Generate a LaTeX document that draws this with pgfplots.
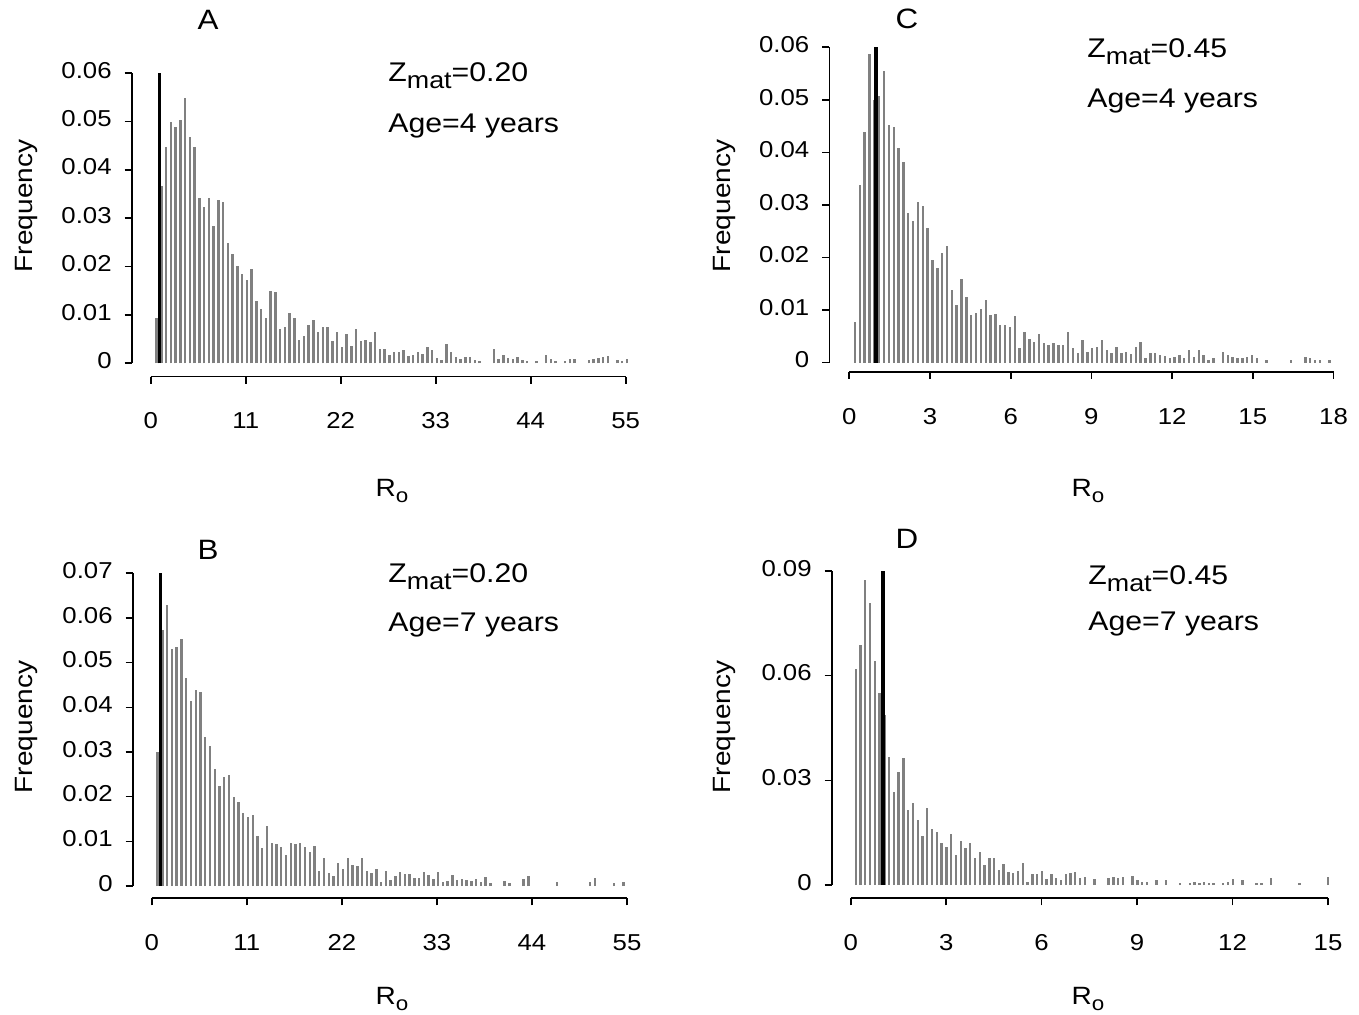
\documentclass[border=0pt]{standalone}
\usepackage{pgfplots}
\pgfplotsset{compat=1.18}
\usepackage{fontspec}
\setmainfont{Liberation Sans}[FakeStretch=1.12]

\pgfplotsset{
  panel/.style={
    scale only axis, axis lines*=left, axis line style={draw=none},
    tick align=outside, major tick length=3.5pt,
    tick style={black, line width=0.8pt},
    scaled y ticks=false, scaled x ticks=false,
    ticklabel style={font=\fontsize{11.5}{13}\selectfont},
    typeset ticklabels with strut,
    xticklabel style={yshift=-10pt},
    yticklabel style={xshift=-3pt},
    /pgf/number format/assume math mode=true,
    clip=false, anchor=south west,
  },
  bars/.style={ycomb, no markers, draw=black!50, line width=1.2pt},
  refline/.style={black, line width=1.5pt},
}

\pgfplotstableread{
x y
0.69 0.0094
1.24 0.0366
1.79 0.0448
2.34 0.0498
2.89 0.0488
3.44 0.0503
3.99 0.0548
4.54 0.0467
5.09 0.0448
5.64 0.0342
6.19 0.0324
6.74 0.0342
7.29 0.0283
7.84 0.0337
8.39 0.0333
8.94 0.0249
9.49 0.0225
10.04 0.0201
10.59 0.0184
11.14 0.0173
11.69 0.0194
12.24 0.0129
12.79 0.0113
13.34 0.0094
13.89 0.0149
14.44 0.0147
14.99 0.0070
15.54 0.0074
16.09 0.0103
16.64 0.0094
17.19 0.0049
17.74 0.0056
18.29 0.0080
18.84 0.0089
19.39 0.0065
19.94 0.0074
20.49 0.0074
21.04 0.0046
21.59 0.0065
22.14 0.0034
22.69 0.0060
23.24 0.0036
23.79 0.0070
24.34 0.0046
24.89 0.0049
25.44 0.0044
25.99 0.0065
26.54 0.0030
27.09 0.0029
27.64 0.0017
28.19 0.0024
28.74 0.0024
29.29 0.0027
29.84 0.0015
30.39 0.0017
30.94 0.0024
31.49 0.0019
32.04 0.0034
32.59 0.0027
33.14 0.0010
33.69 0.0007
34.24 0.0040
34.79 0.0024
35.34 0.0012
35.89 0.0008
36.44 0.0012
36.99 0.0012
37.54 0.0007
38.09 0.0005
39.74 0.0029
40.29 0.0008
40.84 0.0017
41.39 0.0010
41.94 0.0008
42.49 0.0014
43.04 0.0007
43.59 0.0005
44.69 0.0005
45.79 0.0017
46.34 0.0008
46.89 0.0005
47.99 0.0005
48.54 0.0008
49.09 0.0008
50.74 0.0007
51.29 0.0008
51.84 0.0010
52.39 0.0014
52.94 0.0015
54.04 0.0007
54.59 0.0005
55.14 0.0008
}\dataA

\pgfplotstableread{
x y
0.69 0.0300
1.24 0.0572
1.79 0.0629
2.34 0.0530
2.89 0.0534
3.44 0.0554
3.99 0.0465
4.54 0.0413
5.09 0.0439
5.64 0.0435
6.19 0.0334
6.74 0.0313
7.29 0.0263
7.84 0.0224
8.39 0.0243
8.94 0.0249
9.49 0.0199
10.04 0.0187
10.59 0.0163
11.14 0.0154
11.69 0.0159
12.24 0.0112
12.79 0.0084
13.34 0.0134
13.89 0.0097
14.44 0.0094
14.99 0.0088
15.54 0.0069
16.09 0.0097
16.64 0.0094
17.19 0.0097
17.74 0.0088
18.29 0.0077
18.84 0.0090
19.39 0.0034
19.94 0.0062
20.49 0.0028
21.04 0.0022
21.59 0.0052
22.14 0.0037
22.69 0.0063
23.24 0.0047
23.79 0.0045
24.34 0.0063
24.89 0.0034
25.44 0.0028
25.99 0.0037
26.54 0.0010
27.09 0.0034
27.64 0.0013
28.19 0.0022
28.74 0.0032
29.29 0.0027
29.84 0.0027
30.39 0.0017
30.94 0.0019
31.49 0.0032
32.04 0.0025
32.59 0.0015
33.14 0.0032
33.69 0.0010
34.24 0.0012
34.79 0.0025
35.34 0.0013
35.89 0.0015
36.44 0.0013
36.99 0.0012
37.54 0.0015
38.09 0.0010
38.64 0.0021
39.19 0.0006
40.84 0.0012
41.39 0.0007
43.04 0.0015
43.59 0.0022
46.89 0.0010
50.74 0.0010
51.29 0.0017
53.49 0.0007
54.59 0.0010
}\dataB

\pgfplotstableread{
x y
0.212 0.0078
0.392 0.0338
0.572 0.0438
0.752 0.0588
0.932 0.0500
1.112 0.0507
1.292 0.0554
1.472 0.0452
1.652 0.0449
1.832 0.0408
2.012 0.0382
2.192 0.0285
2.372 0.0270
2.552 0.0306
2.732 0.0298
2.912 0.0256
3.092 0.0195
3.272 0.0181
3.452 0.0208
3.632 0.0222
3.812 0.0138
3.992 0.0110
4.172 0.0159
4.352 0.0124
4.532 0.0091
4.712 0.0095
4.892 0.0103
5.072 0.0120
5.252 0.0091
5.432 0.0093
5.612 0.0072
5.792 0.0072
5.972 0.0068
6.152 0.0089
6.332 0.0027
6.512 0.0059
6.692 0.0046
6.872 0.0040
7.052 0.0055
7.232 0.0037
7.412 0.0034
7.592 0.0038
7.772 0.0034
7.952 0.0034
8.132 0.0059
8.312 0.0027
8.492 0.0019
8.672 0.0044
8.852 0.0021
9.032 0.0027
9.212 0.0029
9.392 0.0043
9.572 0.0024
9.752 0.0019
9.932 0.0029
10.112 0.0019
10.292 0.0021
10.472 0.0016
10.652 0.0029
10.832 0.0040
11.012 0.0008
11.192 0.0019
11.372 0.0018
11.552 0.0015
11.732 0.0013
11.912 0.0008
12.092 0.0011
12.272 0.0015
12.452 0.0008
12.632 0.0025
12.812 0.0011
12.992 0.0024
13.172 0.0015
13.352 0.0005
13.532 0.0008
13.892 0.0021
14.072 0.0015
14.252 0.0011
14.432 0.0008
14.612 0.0008
14.792 0.0011
14.972 0.0015
15.152 0.0008
15.512 0.0005
16.412 0.0006
16.952 0.0011
17.132 0.0008
17.312 0.0005
17.492 0.0005
17.852 0.0005
}\dataC

\pgfplotstableread{
x y
0.157 0.0618
0.307 0.0688
0.457 0.0874
0.607 0.0809
0.757 0.0643
0.907 0.0550
1.057 0.0487
1.207 0.0368
1.357 0.0267
1.507 0.0325
1.657 0.0363
1.807 0.0215
1.957 0.0236
2.107 0.0186
2.257 0.0140
2.407 0.0220
2.557 0.0160
2.707 0.0153
2.857 0.0119
3.007 0.0110
3.157 0.0146
3.307 0.0086
3.457 0.0127
3.607 0.0105
3.757 0.0119
3.907 0.0076
4.057 0.0096
4.207 0.0057
4.357 0.0076
4.507 0.0076
4.657 0.0043
4.807 0.0060
4.957 0.0038
5.107 0.0033
5.257 0.0041
5.407 0.0062
5.557 0.0010
5.707 0.0032
5.857 0.0032
6.007 0.0041
6.157 0.0016
6.307 0.0032
6.457 0.0019
6.607 0.0014
6.757 0.0032
6.907 0.0035
7.057 0.0038
7.207 0.0019
7.357 0.0022
7.657 0.0016
8.107 0.0019
8.257 0.0024
8.407 0.0019
8.557 0.0022
8.857 0.0026
9.007 0.0014
9.157 0.0010
9.307 0.0010
9.607 0.0014
9.907 0.0014
10.357 0.0007
10.657 0.0007
10.807 0.0010
10.957 0.0007
11.107 0.0010
11.257 0.0007
11.407 0.0007
11.707 0.0007
11.857 0.0010
12.007 0.0016
12.307 0.0014
12.757 0.0007
12.907 0.0007
13.207 0.0019
14.107 0.0005
15.007 0.0024
}\dataD

\newcommand{\lab}{\fontsize{12.5}{15}\selectfont}
\newcommand{\ann}{\fontsize{13.5}{16}\selectfont}
\newcommand{\Zmat}[1]{Z\raisebox{-3.5pt}{\fontsize{12}{14}\selectfont mat}=#1}
\newcommand{\Ro}{R\raisebox{-3pt}{\fontsize{10}{12}\selectfont o}}

\begin{document}
\begin{tikzpicture}
\useasboundingbox (0pt,0pt) rectangle (679.5pt,507.5pt);

% ---------- A ----------
\begin{axis}[panel, at={(65.85pt,319.15pt)}, width=247pt, height=151.85pt,
  xmin=-2.2, xmax=55, ymin=-0.00277, ymax=0.06,
  xtick={0,11,22,33,44,55},
  ytick={0,0.01,0.02,0.03,0.04,0.05,0.06},
  yticklabels={0,0.01,0.02,0.03,0.04,0.05,0.06}]
\addplot[bars] table {\dataA};
\addplot[refline] coordinates {(1,0) (1,0.06)};
\draw[line width=0.8pt] (axis cs:-2.2,0) -- (axis cs:-2.2,0.06);
\draw[line width=0.8pt] (axis cs:0,-0.00277) -- (axis cs:55,-0.00277);
\end{axis}

% ---------- B ----------
\begin{axis}[panel, at={(66.35pt,58.35pt)}, width=247.15pt, height=162.5pt,
  xmin=-2.2, xmax=55, ymin=-0.00275, ymax=0.07,
  xtick={0,11,22,33,44,55},
  ytick={0,0.01,0.02,0.03,0.04,0.05,0.06,0.07},
  yticklabels={0,0.01,0.02,0.03,0.04,0.05,0.06,0.07}]
\addplot[bars] table {\dataB};
\addplot[refline] coordinates {(1,0) (1,0.07)};
\draw[line width=0.8pt] (axis cs:-2.2,0) -- (axis cs:-2.2,0.07);
\draw[line width=0.8pt] (axis cs:0,-0.00275) -- (axis cs:55,-0.00275);
\end{axis}

% ---------- C ----------
\begin{axis}[panel, at={(414.65pt,321.5pt)}, width=252.1pt, height=162.35pt,
  xmin=-0.743, xmax=18, ymin=-0.00177, ymax=0.06,
  xtick={0,3,6,9,12,15,18},
  ytick={0,0.01,0.02,0.03,0.04,0.05,0.06},
  yticklabels={0,0.01,0.02,0.03,0.04,0.05,0.06}]
\addplot[bars] table {\dataC};
\addplot[refline, line width=2pt] coordinates {(1,0) (1,0.06)};
\draw[line width=0.8pt] (axis cs:-0.743,0) -- (axis cs:-0.743,0.06);
\draw[line width=0.8pt] (axis cs:0,-0.00177) -- (axis cs:18,-0.00177);
\end{axis}

% ---------- D ----------
\begin{axis}[panel, at={(415.85pt,58.35pt)}, width=248.15pt, height=163.65pt,
  xmin=-0.597, xmax=15, ymin=-0.00381, ymax=0.09,
  xtick={0,3,6,9,12,15},
  ytick={0,0.03,0.06,0.09},
  yticklabels={0,0.03,0.06,0.09}]
\addplot[bars] table {\dataD};
\addplot[refline, line width=2pt] coordinates {(1,0) (1,0.09)};
\draw[line width=0.8pt] (axis cs:-0.597,0) -- (axis cs:-0.597,0.09);
\draw[line width=0.8pt] (axis cs:0,-0.00381) -- (axis cs:15,-0.00381);
\end{axis}

% panel letters
\node[font=\fontsize{14}{16}\selectfont] at (104pt,497.5pt) {A};
\node[font=\fontsize{14}{16}\selectfont] at (453.5pt,498pt) {C};
\node[font=\fontsize{14}{16}\selectfont] at (104pt,232.5pt) {B};
\node[font=\fontsize{14}{16}\selectfont] at (453.5pt,238pt) {D};

% annotations
\node[anchor=base west, inner sep=0pt, font=\ann] at (194pt,466.65pt) {\Zmat{0.20}};
\node[anchor=base west, inner sep=0pt, font=\ann] at (194pt,441.15pt) {Age=4 years};
\node[anchor=base west, inner sep=0pt, font=\ann] at (543.5pt,478.5pt) {\Zmat{0.45}};
\node[anchor=base west, inner sep=0pt, font=\ann] at (543.5pt,453.5pt) {Age=4 years};
\node[anchor=base west, inner sep=0pt, font=\ann] at (194pt,216pt) {\Zmat{0.20}};
\node[anchor=base west, inner sep=0pt, font=\ann] at (194pt,191.5pt) {Age=7 years};
\node[anchor=base west, inner sep=0pt, font=\ann] at (544pt,215pt) {\Zmat{0.45}};
\node[anchor=base west, inner sep=0pt, font=\ann] at (544pt,192pt) {Age=7 years};

% axis labels
\node[rotate=90, font=\lab] at (13pt,404.5pt) {Frequency};
\node[rotate=90, font=\lab] at (13pt,144pt) {Frequency};
\node[rotate=90, font=\lab] at (362pt,404.5pt) {Frequency};
\node[rotate=90, font=\lab] at (362pt,144pt) {Frequency};
\node[anchor=base, inner sep=0pt, font=\lab] at (196pt,259pt) {\Ro};
\node[anchor=base, inner sep=0pt, font=\lab] at (544pt,259pt) {\Ro};
\node[anchor=base, inner sep=0pt, font=\lab] at (196pt,5pt) {\Ro};
\node[anchor=base, inner sep=0pt, font=\lab] at (544pt,5pt) {\Ro};
\end{tikzpicture}
\end{document}
